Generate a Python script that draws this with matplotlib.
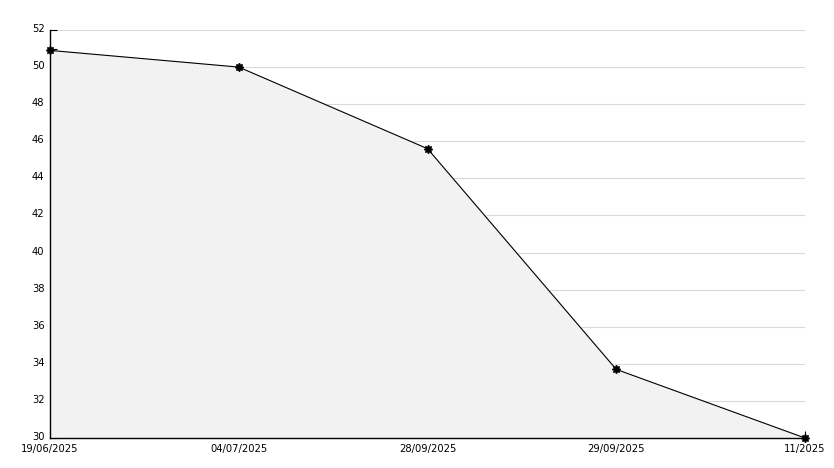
import matplotlib
matplotlib.use("Agg")
import matplotlib.pyplot as plt
from matplotlib.ticker import MultipleLocator

dates = ["19/06/2025", "04/07/2025", "28/09/2025", "29/09/2025", "11/2025"]
values = [50.9, 50.0, 45.6, 33.7, 30.0]

fig = plt.figure(figsize=(8.34, 4.68), dpi=100)
ax = fig.add_axes([50/834, 30/468, 755/834, 408/468])
x = list(range(len(dates)))
ax.fill_between(x, values, 30, color="#f2f2f2", zorder=1)
ax.plot(x, values, color="black", lw=0.8, marker=(8, 1, 0), markersize=6, zorder=5, clip_on=False)
ax.set_xlim(0, len(dates) - 1)
ax.set_ylim(30, 52)
ax.yaxis.set_major_locator(MultipleLocator(2))
ax.yaxis.set_minor_locator(MultipleLocator(1))
ax.grid(axis="y", which="major", color="#d9d9d9", lw=0.8, zorder=0)
ax.set_axisbelow(True)
ax.set_xticks(x)
ax.set_xticklabels(dates)
for s in ["top", "right"]:
    ax.spines[s].set_visible(False)
for s in ["left", "bottom"]:
    ax.spines[s].set_linewidth(1.0)
    ax.spines[s].set_zorder(4)
ax.tick_params(axis="both", which="both", direction="in", labelsize=7.2, length=5, width=0.8)
ax.tick_params(axis="y", which="both", pad=4)
ax.tick_params(axis="x", which="both", pad=4)
for lbl in ax.get_yticklabels():
    lbl.set_verticalalignment("bottom")
    lbl.set_y(lbl.get_position()[1])
fig.canvas.draw()
import matplotlib.transforms as mtrans
offset = mtrans.ScaledTranslation(0, -4/100, fig.dpi_scale_trans)
for lbl in ax.get_yticklabels():
    lbl.set_transform(lbl.get_transform() + offset)
fig.savefig("out.png", dpi=100)
